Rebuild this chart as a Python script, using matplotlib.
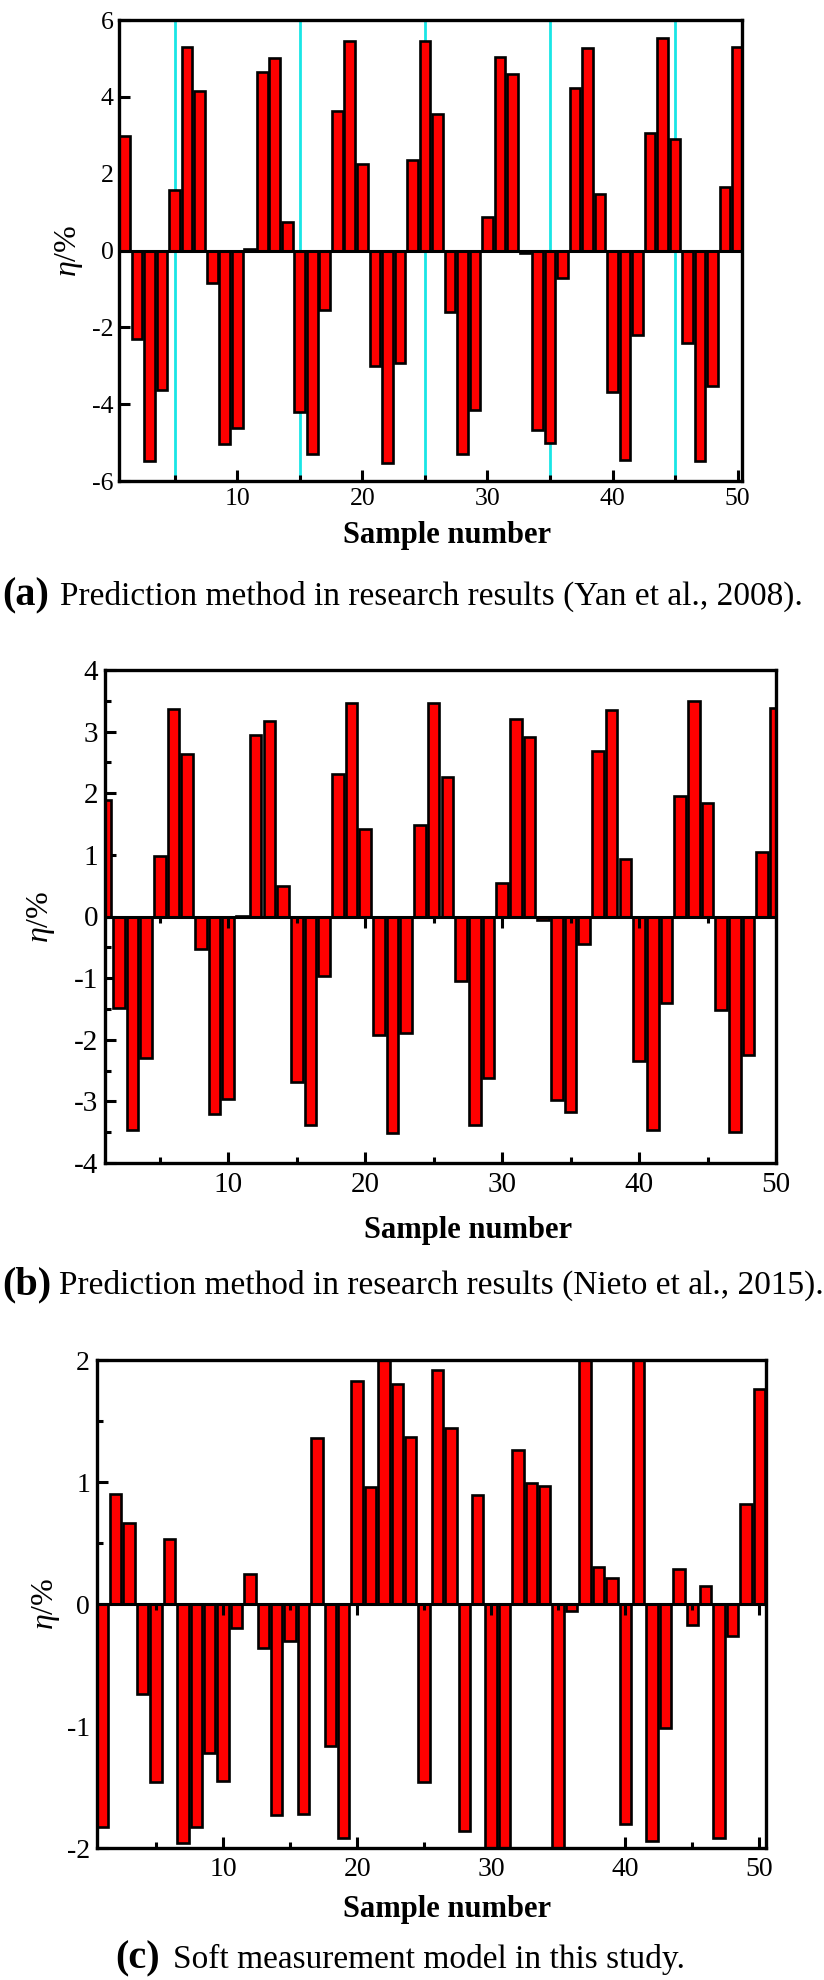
import numpy as np
import matplotlib.pyplot as plt
from matplotlib.ticker import MultipleLocator
from matplotlib.lines import TICKDOWN

plt.rcParams['font.family'] = ['Liberation Serif', 'DejaVu Serif']
plt.rcParams['mathtext.fontset'] = 'custom'
plt.rcParams['mathtext.rm'] = 'Liberation Serif'
plt.rcParams['mathtext.it'] = 'Liberation Serif:italic'
plt.rcParams['axes.unicode_minus'] = False

# ---- data ----
samples = np.arange(1, 51)

# (a) Yan et al., 2008
eta_a = [2.98, -2.31, -5.48, -3.63, 1.57, 5.31, 4.15, -0.84, -5.03, -4.63,
         0.03, 4.64, 5.01, 0.75, -4.21, -5.29, -1.54, 3.63, 5.45, 2.24,
         -3.00, -5.53, -2.94, 2.35, 5.45, 3.56, -1.60, -5.31, -4.15, 0.86,
         5.03, 4.59, -0.07, -4.68, -5.00, -0.72, 4.22, 5.27, 1.47, -3.68,
         -5.45, -2.21, 3.05, 5.52, 2.89, -2.40, -5.48, -3.54, 1.66, 5.31]

# (b) Nieto et al., 2015
eta_b = [1.89, -1.48, -3.47, -2.30, 0.98, 3.37, 2.64, -0.52, -3.21, -2.96,
         0.01, 2.95, 3.17, 0.49, -2.69, -3.38, -0.97, 2.31, 3.47, 1.42,
         -1.93, -3.51, -1.89, 1.49, 3.47, 2.27, -1.04, -3.39, -2.62, 0.55,
         3.21, 2.91, -0.05, -2.98, -3.18, -0.45, 2.68, 3.35, 0.94, -2.35,
         -3.47, -1.41, 1.95, 3.50, 1.84, -1.51, -3.49, -2.24, 1.05, 3.39]

# (c) soft measurement model
eta_c = [-1.83, 0.90, 0.66, -0.74, -1.46, 0.53, -1.96, -1.83, -1.22, -1.45,
         -0.20, 0.25, -0.36, -1.73, -0.30, -1.72, 1.36, -1.16, -1.92, 1.83,
         0.96, 2.00, 1.80, 1.37, -1.46, 1.92, 1.44, -1.86, 0.89, -2.00,
         -2.00, 1.26, 0.99, 0.97, -2.00, -0.06, 2.00, 0.30, 0.21, -1.80,
         2.00, -1.94, -1.02, 0.29, -0.17, 0.15, -1.92, -0.26, 0.82, 1.76]

# cyan separators in panel (a)
cyan_marks_a = [5, 15, 25, 35, 45]

caption_tags = ['(a)', '(b)', '(c)']
caption_texts = ['Prediction method in research results (Yan et al., 2008).',
                 'Prediction method in research results (Nieto et al., 2015).',
                 'Soft measurement model in this study.']

W, H = 824, 1980


def px_rect(left, top, right, bottom):
    """pixel box -> figure fraction rect"""
    return [left / W, 1 - bottom / H, (right - left) / W, (bottom - top) / H]


def draw_panel(ax, values, xlim, ylim, ystep, yminor, tick_size, xpad, ypad,
               ylabel_x, xlabel_pos, zero_ticks=True):
    ax.bar(samples, values, width=0.85, color='#ff0000', edgecolor='black',
           linewidth=1.9, zorder=3)
    ax.axhline(0, color='black', linewidth=2.2, zorder=4)

    ax.set_xlim(*xlim)
    ax.set_ylim(*ylim)
    ax.xaxis.set_major_locator(MultipleLocator(10))
    ax.xaxis.set_minor_locator(MultipleLocator(5))
    ax.yaxis.set_major_locator(MultipleLocator(ystep))
    if yminor:
        ax.yaxis.set_minor_locator(MultipleLocator(yminor))

    for sp in ax.spines.values():
        sp.set_linewidth(2.4)
        sp.set_zorder(6)
    ax.tick_params(which='both', direction='in', top=False, right=False,
                   width=2.2, labelsize=tick_size)
    ax.tick_params(which='major', length=8)
    ax.tick_params(which='minor', length=4.3)
    ax.tick_params(axis='x', pad=xpad)
    ax.tick_params(axis='y', pad=ypad)

    # small ticks hanging under the zero line
    if zero_ticks:
        lo, hi = ax.get_xlim()
        majors = [t for t in ax.get_xticks() if lo <= t <= hi]
        minors = [t for t in ax.xaxis.get_minorticklocs() if lo <= t <= hi]
        ax.plot(majors, np.zeros(len(majors)), ls='none', marker=TICKDOWN,
                ms=8, mew=2.2, color='black', zorder=5)
        ax.plot(minors, np.zeros(len(minors)), ls='none', marker=TICKDOWN,
                ms=4.3, mew=2.2, color='black', zorder=5)

    ax.set_ylabel(r'$\eta$/%', fontsize=23, labelpad=0)
    ax.yaxis.set_label_coords(ylabel_x, 0.5)
    ax.text(xlabel_pos[0], xlabel_pos[1], 'Sample number', transform=ax.transAxes,
            ha='center', va='baseline', fontsize=22, fontweight='bold')


fig = plt.figure(figsize=(W / 100, H / 100), dpi=100)

# (a)
ax_a = fig.add_axes(px_rect(119, 20, 742, 481))
for xm in cyan_marks_a:
    ax_a.axvline(xm, color='#19e6e6', linewidth=2.0, zorder=1)
draw_panel(ax_a, eta_a, (0.55, 50.35), (-6, 6), 2, None, 18.5, 5, 4,
           -0.055, (0.5265, -0.1345), zero_ticks=False)

# (b)
ax_b = fig.add_axes(px_rect(105, 670, 776, 1163))
draw_panel(ax_b, eta_b, (1, 50), (-4, 4), 1, 0.5, 21, 6.5, 5,
           -0.072, (0.541, -0.152))

# (c)
ax_c = fig.add_axes(px_rect(97, 1360, 766, 1848))
draw_panel(ax_c, eta_c, (0.6, 50.5), (-2, 2), 1, 0.5, 20, 6.5, 5,
           -0.052, (0.523, -0.141))

# captions under each panel
cap_pos = [(2, 60, 605), (2, 59, 1294), (115, 173, 1968)]
for tag, text, (xt, xs, yb) in zip(caption_tags, caption_texts, cap_pos):
    fig.text(xt / W, 1 - yb / H, tag, fontsize=29, fontweight='bold',
             ha='left', va='baseline')
    fig.text(xs / W, 1 - yb / H, text, fontsize=24, ha='left', va='baseline')

fig.savefig('out.png', dpi=100)
